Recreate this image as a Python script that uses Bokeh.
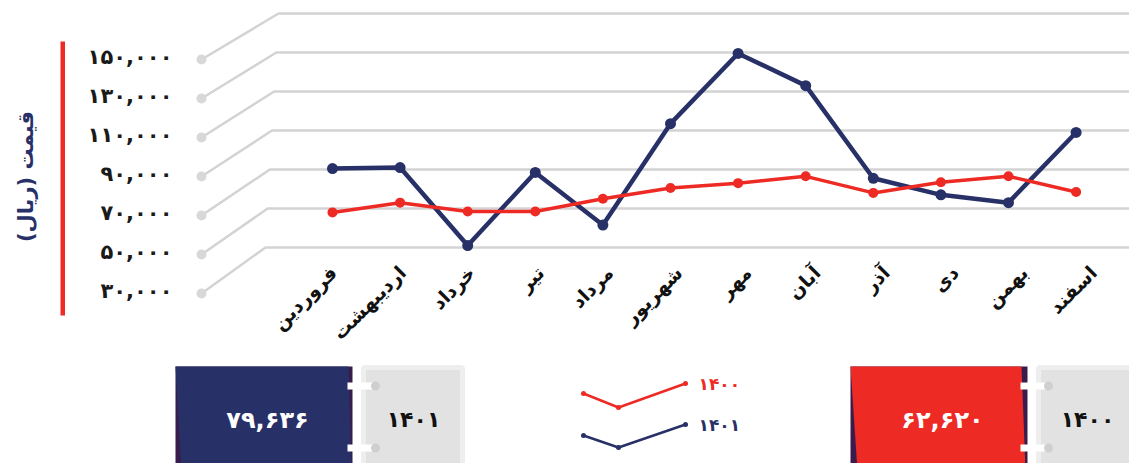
import math
from bokeh.plotting import figure
from bokeh.models import Range1d
from bokeh.layouts import column
from bokeh.embed import file_html
from bokeh.resources import INLINE
from bokeh.core.properties import value

# ---------------- data ----------------
months = ["فروردین", "اردیبهشت", "خرداد", "تیر", "مرداد", "شهریور",
          "مهر", "آبان", "آذر", "دی", "بهمن", "اسفند"]
price_1401 = [70500, 71000, 31000, 68500, 41500, 93500,
              129500, 113000, 65500, 57000, 53000, 89000]
price_1400 = [48000, 53000, 48500, 48500, 55000, 60500,
              63000, 66500, 58000, 63500, 66500, 58500]
y_ticks = [30000, 50000, 70000, 90000, 110000, 130000, 150000]
y_tick_labels = ["۳۰,۰۰۰", "۵۰,۰۰۰", "۷۰,۰۰۰", "۹۰,۰۰۰",
                 "۱۱۰,۰۰۰", "۱۳۰,۰۰۰", "۱۵۰,۰۰۰"]
series_names = ["۱۴۰۰", "۱۴۰۱"]
averages = ["۶۲,۶۲۰", "۷۹,۶۳۶"]
y_title = "قیمت (ریال)"

# ---------------- style ----------------
NAVY = "#283167"
RED = "#ee2a24"
GRID = "#d3d3d3"
FONT = value("DejaVu Sans")
W, H_MAIN, H_BOT = 1129, 348, 115
OX, OY = 0, 0


def X(px):  # image px -> category units
    return (px - 332) / 67.6


def Y(py):  # image px -> value units
    return 30000 + (247 - py) / 0.00195


p = figure(width=W, height=H_MAIN,
           x_range=Range1d(X(OX), X(OX + W)),
           y_range=Range1d(Y(OY + H_MAIN), Y(OY)),
           output_backend="svg", toolbar_location=None, min_border=0,
           x_axis_location=None, y_axis_location=None)
p.outline_line_color = None
p.grid.visible = False
p.background_fill_color = "white"
p.border_fill_color = "white"

# pseudo-3D grid
front_off = 46 / 0.00195
gx_front = X(201)
xs, ys = [], []
for t in y_ticks:
    back_x = X(265 + 13 * (t - y_ticks[0]) / (y_ticks[-1] - y_ticks[0]))
    xs.append([gx_front, back_x, X(1140)])
    ys.append([t - front_off, t, t])
p.multi_line(xs, ys, line_color=GRID, line_width=2.5)
p.scatter([gx_front] * len(y_ticks), [t - front_off for t in y_ticks],
          size=10, fill_color="#d8d8d8", line_color=None)

# tick labels
p.text([X(172)] * len(y_ticks), [t - front_off + 1500 for t in y_ticks],
       text=y_tick_labels, text_align="right", text_baseline="middle",
       text_font=FONT, text_font_size="21px", text_font_style="bold",
       text_color="#1a1a1a")

# red axis bar and title
p.quad(left=X(60), right=X(64.5), top=Y(41), bottom=Y(315),
       fill_color=RED, line_color=None)
p.text([X(25)], [Y(176)], text=[y_title], angle=math.pi / 2,
       text_align="center", text_baseline="middle", text_font=FONT,
       text_font_size="21px", text_font_style="bold", text_color=NAVY)

# month labels
idx = list(range(len(months)))
p.text([X(325 + 69.1 * i) for i in idx], [Y(261)] * len(idx), text=months,
       angle=math.pi / 4, text_align="right", text_baseline="top",
       text_font=FONT, text_font_size="19px", text_font_style="bold",
       text_color="#111111")

# series
p.line(idx, price_1401, line_color=NAVY, line_width=4.5, line_join="round")
p.scatter(idx, price_1401, size=11, fill_color=NAVY, line_color=None)
p.line(idx, price_1400, line_color=RED, line_width=3.5, line_join="round")
p.scatter(idx, price_1400, size=10, fill_color=RED, line_color=None)

# ---------------- bottom panel ----------------
q = figure(width=W, height=H_BOT,
           x_range=Range1d(OX, OX + W),
           y_range=Range1d(OY + H_MAIN + H_BOT, OY + H_MAIN),
           output_backend="svg", toolbar_location=None, min_border=0,
           x_axis_location=None, y_axis_location=None)
q.outline_line_color = None
q.grid.visible = False

DARK = "#3a1c4c"
# navy card (1401)
q.quad(left=175, right=352, top=366, bottom=470, fill_color=DARK, line_color=None)
q.patch([175, 348, 351, 181], [366, 366, 470, 470], fill_color=NAVY, line_color=None)
# red card (1400)
q.quad(left=850, right=1027, top=366, bottom=470, fill_color=DARK, line_color=None)
q.patch([850, 1021, 1025, 857], [366, 366, 470, 470], fill_color=RED, line_color=None)
# grey year cards
q.quad(left=[363, 1038], right=[462, 1140], top=[367, 367], bottom=[470, 470],
       fill_color="#e2e2e2", line_color="#eeeeee", line_width=5)
# rings
for rx0, rx1 in [(347, 375), (1020, 1048)]:
    q.quad(left=[rx0, rx0], right=[rx1, rx1], top=[382, 444], bottom=[389, 451],
           fill_color="white", line_color=None)
    q.scatter([rx1, rx1], [385.5, 447.5], size=9, fill_color="#cfcfcf",
              line_color=None)
# card texts
q.text([267, 942], [419, 419], text=[averages[1], averages[0]],
       text_align="center", text_baseline="middle", text_font=FONT,
       text_font_size="24px", text_font_style="bold", text_color="white")
q.text([413, 1087], [419, 419], text=[series_names[1], series_names[0]],
       text_align="center", text_baseline="middle", text_font=FONT,
       text_font_size="22px", text_font_style="bold", text_color="#111111")

# legend
for col, ly, name in [(RED, [393, 407, 383], series_names[0]),
                      (NAVY, [435, 447, 424], series_names[1])]:
    q.line([583, 618, 685], ly, line_color=col, line_width=2.5)
    q.scatter([583, 618, 685], ly, size=5, fill_color=col, line_color=None)
    q.text([698], [ly[2]], text=[name], text_align="left",
           text_baseline="middle", text_font=FONT, text_font_size="17px",
           text_font_style="bold", text_color=col)

layout = column(p, q, spacing=0)
open("out.html", "w").write(file_html(layout, INLINE))
